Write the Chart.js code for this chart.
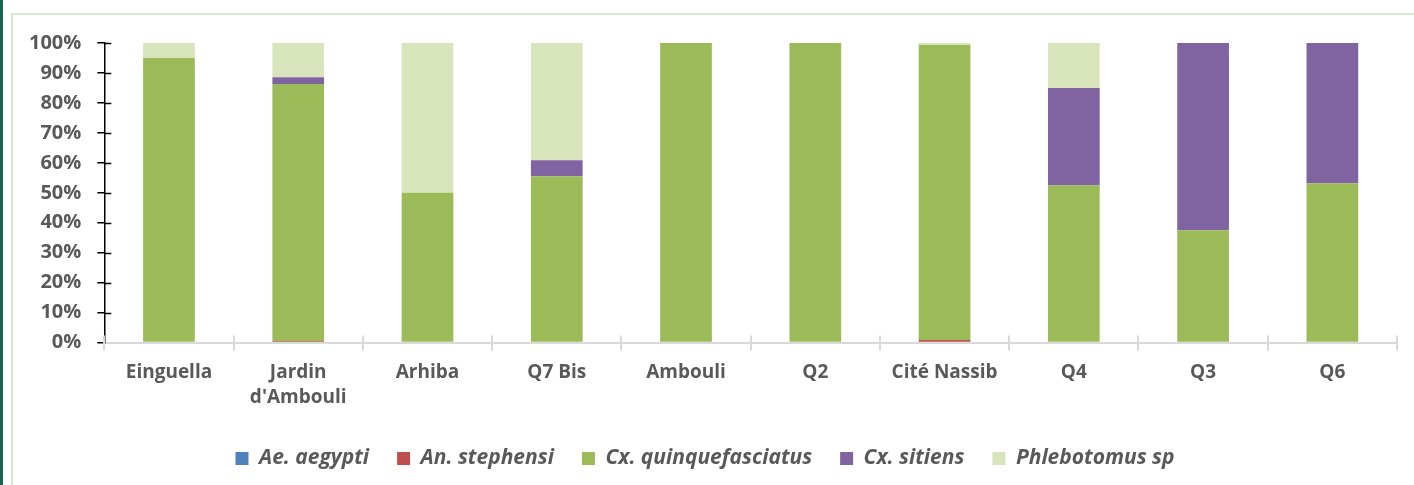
<!DOCTYPE html>
<html>
<head>
<meta charset="utf-8">
<script src="https://cdn.jsdelivr.net/npm/chart.js@4/dist/chart.umd.min.js"></script>
<style>
  html, body { margin: 0; padding: 0; background: #fff; }
  body { width: 1414px; height: 485px; position: relative; overflow: hidden; }
  #stripe { position: absolute; left: 0; top: 0; width: 3px; height: 485px; background: #17664f; }
  #frame { position: absolute; left: 11px; top: 13px; width: 1410px; height: 480px;
           border-left: 2px solid #d5ebcf; border-top: 2px solid #d5ebcf; }
  #myChart { position: absolute; left: 0; top: 0; }
</style>
</head>
<body>
<div id="stripe"></div>
<div id="frame"></div>
<canvas id="myChart" width="1414" height="485"></canvas>
<script>
// sites and species share (%)
const sites = ['Einguella', ['Jardin', "d'Ambouli"], 'Arhiba', 'Q7 Bis', 'Ambouli', 'Q2', 'Cité Nassib', 'Q4', 'Q3', 'Q6'];
const aeAegypti     = [0, 0, 0, 0, 0, 0, 0, 0, 0, 0];
const anStephensi   = [0, 0.5, 0, 0, 0, 0, 0.9, 0, 0, 0];
const cxQuinque     = [95, 85.8, 50, 55.5, 100, 100, 98.4, 52.5, 37.5, 53.2];
const cxSitiens     = [0, 2.3, 0, 5.4, 0, 0, 0, 32.5, 62.5, 46.8];
const phlebotomus   = [5, 11.4, 50, 39.1, 0, 0, 0.7, 15, 0, 0];
const yTicks = [0, 10, 20, 30, 40, 50, 60, 70, 80, 90, 100];

const grey = '#595959';

// little marks on the inner side of the axes, like the Excel original
const crossTicks = {
    id: 'crossTicks',
    afterDraw(chart) {
        const ctx = chart.ctx;
        const x = chart.scales.x, y = chart.scales.y;
        ctx.save();
        ctx.strokeStyle = '#000';
        ctx.lineWidth = 1.5;
        yTicks.forEach(v => {
            if (v === 0) return;
            const py = Math.round(y.getPixelForValue(v)) + 0.5;
            ctx.beginPath();
            ctx.moveTo(y.right, py);
            ctx.lineTo(y.right + 7, py);
            ctx.stroke();
        });
        ctx.strokeStyle = '#d9d9d9';
        ctx.lineWidth = 2;
        const w = x.getPixelForValue(1) - x.getPixelForValue(0);
        for (let i = 0; i <= sites.length; i++) {
            const px = Math.round(x.getPixelForValue(i) - w / 2);
            ctx.beginPath();
            ctx.moveTo(px, x.top - 7);
            ctx.lineTo(px, x.top + 8);
            ctx.stroke();
        }
        ctx.restore();
    }
};

const myChart = new Chart(document.getElementById('myChart'), {
    type: 'bar',
    data: {
        labels: sites,
        datasets: [
            { label: 'Ae. aegypti', data: aeAegypti, backgroundColor: '#4f81bd' },
            { label: 'An. stephensi', data: anStephensi, backgroundColor: '#c0504d' },
            { label: 'Cx. quinquefasciatus', data: cxQuinque, backgroundColor: '#9bbb59' },
            { label: 'Cx. sitiens', data: cxSitiens, backgroundColor: '#8064a2' },
            { label: 'Phlebotomus sp', data: phlebotomus, backgroundColor: '#d8e4bc' }
        ]
    },
    options: {
        responsive: false,
        animation: false,
        datasets: {
            bar: { categoryPercentage: 1, barPercentage: 0.4 }
        },
        layout: {
            padding: { left: 13, top: 43, right: 17, bottom: 6 }
        },
        plugins: {
            tooltip: { enabled: false },
            legend: {
                position: 'bottom',
                labels: {
                    boxWidth: 13,
                    boxHeight: 13,
                    padding: 28,
                    color: grey,
                    font: { family: 'Open Sans', size: 21, weight: 'bold', style: 'italic' }
                }
            }
        },
        scales: {
            x: {
                stacked: true,
                grid: { display: false, drawOnChartArea: false },
                border: { color: '#d9d9d9', width: 2 },
                ticks: {
                    color: grey,
                    padding: 10,
                    maxRotation: 0,
                    autoSkip: false,
                    font: { family: 'Open Sans', size: 19, weight: 'bold', lineHeight: 1.3 }
                }
            },
            y: {
                stacked: true,
                min: 0,
                max: 100,
                afterBuildTicks: axis => { axis.ticks = yTicks.map(v => ({ value: v })); },
                grid: { drawOnChartArea: false, color: '#000', tickLength: 7, lineWidth: 1.5 },
                border: { color: '#000', width: 1.5 },
                ticks: {
                    color: grey,
                    padding: 16,
                    callback: v => v + '%',
                    font: { family: 'Open Sans', size: 20, weight: 'bold' }
                }
            }
        }
    },
    plugins: [crossTicks]
});
</script>
</body>
</html>
